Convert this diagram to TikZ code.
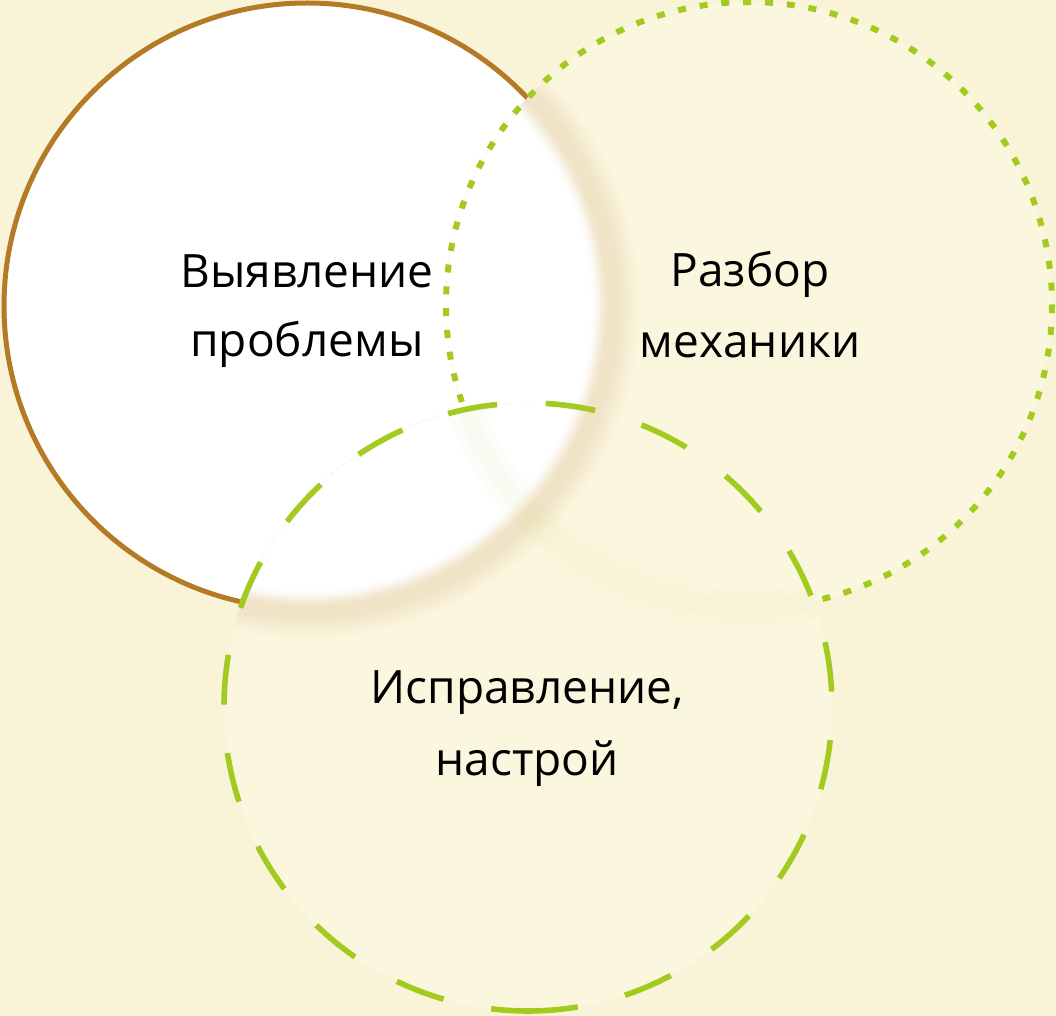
\documentclass[tikz,border=0pt]{standalone}
\usepackage{fontspec}
\setmainfont{Open Sans}
\definecolor{bgc}{HTML}{F9F4D8}
\definecolor{inc}{HTML}{FBF7DF}
\definecolor{tanc}{HTML}{F0E3C6}
\definecolor{brownc}{HTML}{B57A25}
\definecolor{greenc}{HTML}{A3CB1F}
\newcommand\myglow[1]{%
  \foreach \r in {340,338,...,306}{%
    \pgfmathsetmacro\p{100*(sin(90*(340-\r)/34))^2}%
    \fill[tanc!\p!#1] (A) circle[radius=\r];}%
  \foreach \r in {304,302,...,284}{%
    \pgfmathsetmacro\q{100*(sin(90*(304-\r)/20))^2}%
    \fill[white!\q!tanc] (A) circle[radius=\r];}%
  \fill[white] (A) circle[radius=282];
}
\begin{document}
\begin{tikzpicture}[x=0.5pt,y=-0.5pt,
  lbl/.style={anchor=base, font=\fontsize{23}{27}\selectfont, text=black, inner sep=0pt},
  brownline/.style={draw=brownc, line width=2.5pt},
  dotline/.style={draw=greenc, line width=3pt, dash pattern=on 4pt off 6.94pt},
  dashline/.style={draw=greenc, line width=2.8pt, dash pattern=on 25pt off 24.3pt},
  greenhalo/.style={draw=greenc, opacity=0.025}]
\fill[bgc] (0,0) rectangle (1056,1016);
\useasboundingbox (0,0) rectangle (1056,1016);
\coordinate (A) at (307,306);
\coordinate (B) at (749,305);
\coordinate (C) at (528,707);
% circle 1: white, brown border
\fill[white] (A) circle[radius=303];
\draw[brownline] (A) circle[radius=303];
% circle 2: dotted
\begin{scope}
  \clip (B) circle[radius=303];
  \fill[inc] (B) circle[radius=303];
  \myglow{inc}
\end{scope}
\draw[dotline] (B) circle[radius=303];
% circle 3: dashed
\begin{scope}
  \clip (C) circle[radius=304];
  \fill[inc] (C) circle[radius=304];
  \myglow{inc}
  \draw[greenhalo, line width=18pt] (B) circle[radius=303];
  \draw[greenhalo, line width=9pt] (B) circle[radius=303];
\end{scope}
\draw[dashline] (C) ++(90:304) arc[start angle=90, end angle=-270, radius=304];
% labels
\node[lbl] (t1a) at (307,288) {Выявление};
\node[lbl] (t1b) at (307,357) {проблемы};
\node[lbl] (t2a) at (750,287) {Разбор};
\node[lbl] (t2b) at (750,358) {механики};
\node[lbl] (t3a) at (527,703) {Исправление,};
\node[lbl] (t3b) at (527,775) {настрой};
\end{tikzpicture}
\end{document}
